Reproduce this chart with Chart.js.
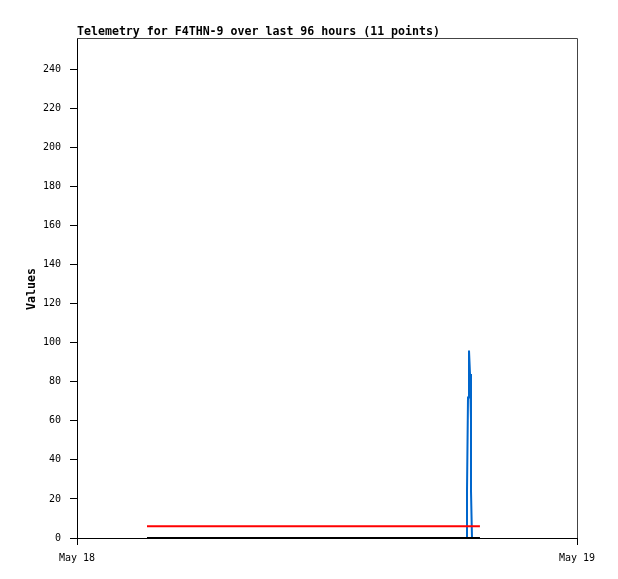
<!DOCTYPE html>
<html><head><meta charset="utf-8">
<script src="https://cdn.jsdelivr.net/npm/chart.js@4/dist/chart.umd.min.js"></script>
<style>html,body{margin:0;padding:0;background:#fff}#wrap{width:618px;height:579px}</style>
</head><body><div id="wrap"><canvas id="c" width="618" height="579"></canvas></div>
<script>
// hours since May 18 00:00
const times = [3.36, 18.72, 18.7201, 18.768, 18.816, 18.864, 18.912, 18.9121, 18.96, 19.10, 19.34];
const blueValues = [0, 0, 24, 72, 96, 84, 60, 24, 0, 0, 0];
const redValues = [6, 6, 6, 6, 6, 6, 6, 6, 6, 6, 6];
const blackValues = [0, 0, 0, 0, 0, 0, 0, 0, 0, 0, 0];
const yTickValues = [0, 20, 40, 60, 80, 100, 120, 140, 160, 180, 200, 220, 240];
const xTickLabels = {0: 'May 18', 24: 'May 19'};
const titleText = 'Telemetry for F4THN-9 over last 96 hours (11 points)';
const yTitleText = 'Values';

const mk = (vals) => times.map((t, i) => ({x: t, y: vals[i]}));
const FONT = {family: '"DejaVu Sans Mono", monospace', size: 10};

const framePlugin = {
  id: 'frame',
  afterDraw(chart) {
    const {ctx, chartArea: a} = chart;
    ctx.save();
    ctx.strokeStyle = '#444';
    ctx.lineWidth = 1;
    ctx.beginPath();
    ctx.moveTo(a.left, a.top + 0.5); ctx.lineTo(a.right + 0.5, a.top + 0.5);
    ctx.lineTo(a.right + 0.5, a.bottom);
    ctx.stroke();
    ctx.fillStyle = '#000';
    ctx.font = 'bold 11.6px "DejaVu Sans Mono", monospace';
    ctx.textBaseline = 'alphabetic';
    ctx.textAlign = 'left';
    ctx.fillText(titleText, 77, 35);
    ctx.translate(32, 289);
    ctx.rotate(-Math.PI / 2);
    ctx.textAlign = 'center';
    ctx.textBaseline = 'middle';
    ctx.fillText(yTitleText, 0, 0);
    ctx.restore();
  }
};

new Chart(document.getElementById('c'), {
  type: 'line',
  data: {
    datasets: [
      {data: mk(blueValues), borderColor: '#0066cc', borderWidth: 2, pointRadius: 0, tension: 0, order: 3},
      {data: mk(redValues), borderColor: '#ff0000', borderWidth: 2, pointRadius: 0, tension: 0, order: 2},
      {data: mk(blackValues), borderColor: '#000000', borderWidth: 2, pointRadius: 0, tension: 0, order: 1}
    ]
  },
  options: {
    responsive: false,
    animation: false,
    devicePixelRatio: 1,
    layout: {padding: {left: 0, top: 38, right: 41, bottom: 0}},
    plugins: {legend: {display: false}, tooltip: {enabled: false}, title: {display: false}},
    scales: {
      x: {
        type: 'linear', min: 0, max: 24,
        afterFit: s => { s.height = 41; },
        afterBuildTicks: s => { s.ticks = Object.keys(xTickLabels).map(k => ({value: +k})); },
        ticks: {autoSkip: false, maxRotation: 0, color: '#000', font: FONT, padding: 7,
          callback: v => xTickLabels[v] || ''},
        grid: {display: true, drawOnChartArea: false, tickLength: 7, color: '#000'},
        border: {color: '#000', width: 1}
      },
      y: {
        min: 0, max: 256,
        afterFit: s => { s.width = 77; },
        afterBuildTicks: s => { s.ticks = yTickValues.map(v => ({value: v})); },
        ticks: {color: '#000', font: FONT, padding: 9},
        grid: {display: true, drawOnChartArea: false, tickLength: 7, color: '#000'},
        border: {color: '#000', width: 1}
      }
    }
  },
  plugins: [framePlugin]
});
</script></body></html>
